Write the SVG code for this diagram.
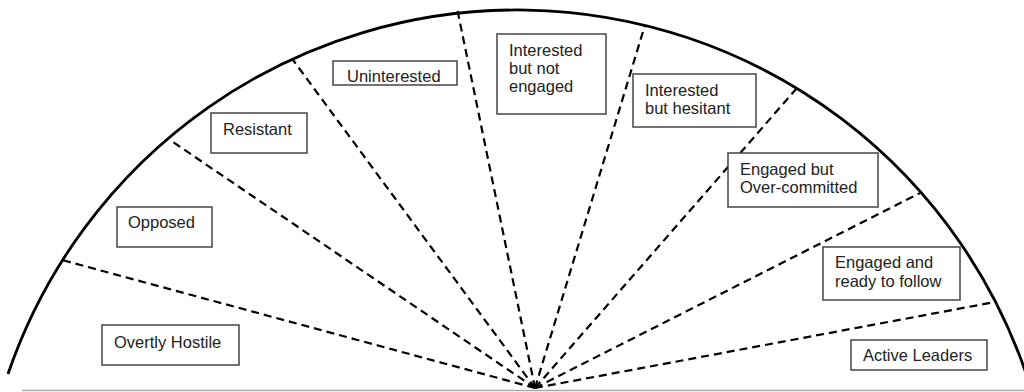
<svg xmlns="http://www.w3.org/2000/svg" width="1024" height="392" viewBox="0 0 1024 392">
<style>
.box{fill:#fff;stroke:#444;stroke-width:1.5}
.lbl{font-family:"Liberation Sans",Arial,sans-serif;font-size:16.5px;fill:#222}
.ray{stroke:#000;stroke-width:2.2;stroke-dasharray:8 5;fill:none}
</style>
<rect width="1024" height="392" fill="#fff"/>
<line x1="22" y1="390.5" x2="1024" y2="390.5" stroke="#aaa" stroke-width="1.5"/>
<path d="M 8 374 A 538 538 0 0 1 1032 392" fill="none" stroke="#000" stroke-width="2.8"/>
<g id="connectors">
<line class="ray" x1="535" y1="388" x2="62" y2="260"/>
<line class="ray" x1="535" y1="388" x2="170" y2="140"/>
<line class="ray" x1="535" y1="388" x2="293" y2="60"/>
<line class="ray" x1="535" y1="388" x2="457" y2="8"/>
<line class="ray" x1="535" y1="388" x2="645" y2="25"/>
<line class="ray" x1="535" y1="388" x2="797" y2="88"/>
<line class="ray" x1="535" y1="388" x2="920" y2="193"/>
<line class="ray" x1="535" y1="388" x2="995" y2="302"/>
</g>
<g id="overtly-hostile"><rect class="box" x="102" y="325" width="137" height="40"/><text class="lbl" x="114" y="348">Overtly Hostile</text></g>
<g id="opposed"><rect class="box" x="117" y="207" width="95" height="40"/><text class="lbl" x="128" y="228">Opposed</text></g>
<g id="resistant"><rect class="box" x="211" y="113" width="96" height="40"/><text class="lbl" x="223" y="135">Resistant</text></g>
<g id="uninterested"><rect class="box" x="333" y="61" width="124" height="24"/><text class="lbl" x="347" y="82">Uninterested</text></g>
<g id="interested-not-engaged"><rect class="box" x="497" y="34" width="109" height="80"/><text class="lbl" x="509" y="56">Interested</text><text class="lbl" x="509" y="74">but not</text><text class="lbl" x="509" y="92">engaged</text></g>
<g id="interested-hesitant"><rect class="box" x="633" y="74" width="123" height="53"/><text class="lbl" x="645" y="96">Interested</text><text class="lbl" x="645" y="114">but hesitant</text></g>
<g id="engaged-overcommitted"><rect class="box" x="728" y="153" width="150" height="54"/><text class="lbl" x="740" y="175">Engaged but</text><text class="lbl" x="740" y="193">Over-committed</text></g>
<g id="engaged-ready"><rect class="box" x="823" y="247" width="137" height="53"/><text class="lbl" x="835" y="268">Engaged and</text><text class="lbl" x="835" y="287">ready to follow</text></g>
<g id="active-leaders"><rect class="box" x="851" y="340" width="136" height="30"/><text class="lbl" x="863" y="361">Active Leaders</text></g>
</svg>
